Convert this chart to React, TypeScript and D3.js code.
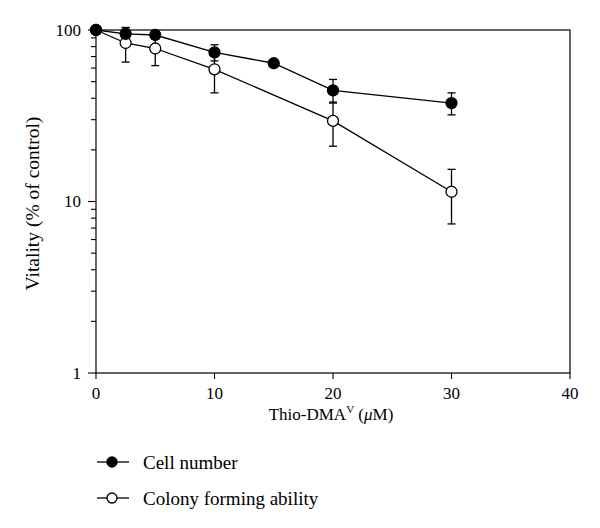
import React, { useEffect, useRef } from 'react';
import * as d3 from 'd3';

// Thio-DMA(V) dose (µM)
const cellDoses = [0, 2.5, 5, 10, 15, 20, 30];
const cellNumber = [100, 95, 93.5, 74, 64, 44.5, 37.5];
const cellNumberErr = [0, 8.5, 5, 8, 2, 7, 5.5];

const colonyDoses = [0, 2.5, 5, 10, 20, 30];
const colonyForming = [100, 84, 78, 59, 29.5, 11.4];
const colonyFormingErr = [0, 19, 16, 16, 8.5, 4];

const xTicks = [0, 10, 20, 30, 40];
const yTicks = [1, 10, 100];

const FONT = "'Liberation Serif', 'DejaVu Serif', serif";

export default function App() {
  const svgRef = useRef<SVGSVGElement | null>(null);

  useEffect(() => {
    if (!svgRef.current) return;
    const svg = d3.select(svgRef.current);
    svg.selectAll('*').remove();

    const left = 96, right = 570, top = 30, bottom = 373;

    const x = d3.scaleLinear().domain([0, 40]).range([left, right]);
    const y = d3.scaleLog().domain([1, 100]).range([bottom, top]);

    // frame
    svg.append('rect')
      .attr('x', left).attr('y', top)
      .attr('width', right - left).attr('height', bottom - top)
      .attr('fill', 'none').attr('stroke', '#000').attr('stroke-width', 1.2);

    // y ticks (major + minor, outward)
    const minor: number[] = [];
    for (let dec = 1; dec < 100; dec *= 10) {
      for (let k = 2; k <= 9; k++) minor.push(dec * k);
    }
    svg.append('g').selectAll('line')
      .data(minor)
      .join('line')
      .attr('x1', left - 5).attr('x2', left)
      .attr('y1', (d) => y(d)).attr('y2', (d) => y(d))
      .attr('stroke', '#000').attr('stroke-width', 1.1);

    svg.append('g').selectAll('line')
      .data(yTicks)
      .join('line')
      .attr('x1', left - 8).attr('x2', left)
      .attr('y1', (d) => y(d)).attr('y2', (d) => y(d))
      .attr('stroke', '#000').attr('stroke-width', 1.1);

    svg.append('g').selectAll('text')
      .data(yTicks)
      .join('text')
      .attr('x', left - 15)
      .attr('y', (d) => y(d))
      .attr('dy', '0.35em')
      .attr('text-anchor', 'end')
      .style('font-family', FONT)
      .style('font-size', '17px')
      .text((d) => String(d));

    // x ticks
    svg.append('g').selectAll('line')
      .data(xTicks)
      .join('line')
      .attr('x1', (d) => x(d)).attr('x2', (d) => x(d))
      .attr('y1', bottom).attr('y2', bottom + 6)
      .attr('stroke', '#000').attr('stroke-width', 1.1);

    svg.append('g').selectAll('text')
      .data(xTicks)
      .join('text')
      .attr('x', (d) => x(d))
      .attr('y', bottom + 26)
      .attr('text-anchor', 'middle')
      .style('font-family', FONT)
      .style('font-size', '17px')
      .text((d) => String(d));

    // axis titles
    const xt = svg.append('text')
      .attr('x', (left + right) / 2 - 2)
      .attr('y', bottom + 47)
      .attr('text-anchor', 'middle')
      .style('font-family', FONT)
      .style('font-size', '17px');
    xt.append('tspan').text('Thio-DMA');
    xt.append('tspan').style('font-size', '11px').attr('dy', -7).text('V');
    xt.append('tspan').attr('dy', 7).text(' (');
    xt.append('tspan').style('font-style', 'italic').text('μ');
    xt.append('tspan').text('M)');

    svg.append('text')
      .attr('transform', `translate(39,${(top + bottom) / 2 + 2}) rotate(-90)`)
      .attr('text-anchor', 'middle')
      .style('font-family', FONT)
      .style('font-size', '19.5px')
      .text('Vitality (% of control)');

    const line = d3.line<[number, number]>()
      .x((d) => x(d[0]))
      .y((d) => y(d[1]));

    const series = [
      { doses: cellDoses, vals: cellNumber, errs: cellNumberErr, fill: '#000' },
      { doses: colonyDoses, vals: colonyForming, errs: colonyFormingErr, fill: '#fff' },
    ];

    // error bars first, then lines, then markers
    series.forEach((s) => {
      const g = svg.append('g').attr('stroke', '#000').attr('stroke-width', 1.3);
      s.doses.forEach((dose, i) => {
        const e = s.errs[i];
        if (!e) return;
        const cx = x(dose);
        const y1 = y(s.vals[i] + e);
        const y2 = y(s.vals[i] - e);
        g.append('line').attr('x1', cx).attr('x2', cx).attr('y1', y1).attr('y2', y2);
        g.append('line').attr('x1', cx - 4).attr('x2', cx + 4).attr('y1', y1).attr('y2', y1);
        g.append('line').attr('x1', cx - 4).attr('x2', cx + 4).attr('y1', y2).attr('y2', y2);
      });
    });

    series.forEach((s) => {
      svg.append('path')
        .datum(s.doses.map((d, i) => [d, s.vals[i]] as [number, number]))
        .attr('d', line)
        .attr('fill', 'none')
        .attr('stroke', '#000')
        .attr('stroke-width', 1.3);
    });

    series.slice().reverse().forEach((s) => {
      svg.append('g').selectAll('circle')
        .data(s.doses.map((d, i) => [d, s.vals[i]]))
        .join('circle')
        .attr('cx', (d) => x(d[0]))
        .attr('cy', (d) => y(d[1]))
        .attr('r', 5.5)
        .attr('fill', s.fill)
        .attr('stroke', '#000')
        .attr('stroke-width', 1.3);
    });

    // legend
    const legend = [
      { label: 'Cell number', fill: '#000' },
      { label: 'Colony forming ability', fill: '#fff' },
    ];
    const lg = svg.append('g').selectAll('g')
      .data(legend)
      .join('g')
      .attr('transform', (_d, i) => `translate(0,${462 + i * 36})`);
    lg.append('line')
      .attr('x1', 97).attr('x2', 129).attr('y1', 0).attr('y2', 0)
      .attr('stroke', '#000').attr('stroke-width', 1.3);
    lg.append('circle')
      .attr('cx', 112).attr('cy', 0).attr('r', 5)
      .attr('fill', (d) => d.fill)
      .attr('stroke', '#000').attr('stroke-width', 1.3);
    lg.append('text')
      .attr('x', 143).attr('y', 0).attr('dy', '0.35em')
      .style('font-family', FONT)
      .style('font-size', '19px')
      .text((d) => d.label);
  }, []);

  return (
    <svg
      ref={svgRef}
      width={600}
      height={528}
      style={{ position: 'absolute', left: 0, top: 0, background: '#fff' }}
    />
  );
}
